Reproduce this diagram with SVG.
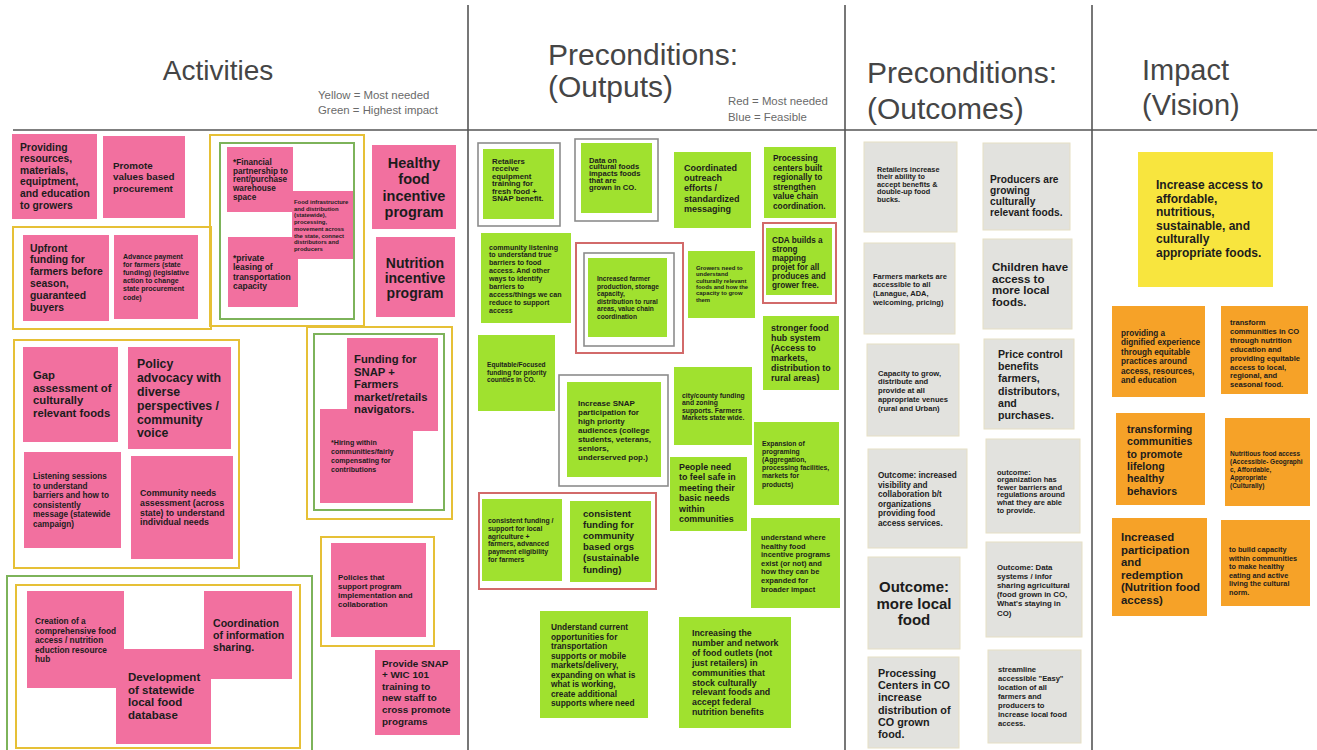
<svg xmlns="http://www.w3.org/2000/svg" width="1317" height="750" viewBox="0 0 1317 750">
<style>
  .pk{fill:#f2709f}
  .gr{fill:#a0e12f}
  .gy{fill:#e2e2de;stroke:#e6dfc4;stroke-width:1}
  .yl{fill:#f8e53e}
  .or{fill:#f6a228}
  .t{font-family:"Liberation Sans",Arial,sans-serif;font-weight:bold;fill:#1c1c1c}
  .hd{font-family:"Liberation Sans",Arial,sans-serif;fill:#454545}
  .lg{font-family:"Liberation Sans",Arial,sans-serif;fill:#6a6a6a;font-size:11.4px}
  .fy{fill:none;stroke:#e6c036;stroke-width:2}
  .fg{fill:none;stroke:#7db35a;stroke-width:2}
  .fgy{fill:none;stroke:#8c8c8c;stroke-width:1.6}
  .fr{fill:none;stroke:#d26a6a;stroke-width:2}
  .dv{stroke:#555;stroke-width:1.6;fill:none}
</style>
<rect width="1317" height="750" fill="#ffffff"/>

<!-- column dividers -->
<g id="grid">
  <line class="dv" x1="13" y1="130" x2="1317" y2="130"/>
  <line class="dv" x1="468" y1="5" x2="468" y2="750"/>
  <line class="dv" x1="845" y1="5" x2="845" y2="750"/>
  <line class="dv" x1="1092" y1="5" x2="1092" y2="750"/>
</g>

<!-- column headings and legends -->
<g id="headings">
  <text class="hd" x="218" y="80" font-size="28" text-anchor="middle">Activities</text>
  <text class="lg" x="318" y="99">Yellow = Most needed</text>
  <text class="lg" x="318" y="114">Green = Highest impact</text>
  <text class="hd" x="548" y="65" font-size="30">Preconditions:</text>
  <text class="hd" x="548" y="97" font-size="30">(Outputs)</text>
  <text class="lg" x="728" y="105">Red = Most needed</text>
  <text class="lg" x="728" y="121">Blue = Feasible</text>
  <text class="hd" x="867" y="83" font-size="30">Preconditions:</text>
  <text class="hd" x="867" y="119" font-size="30">(Outcomes)</text>
  <text class="hd" x="1142" y="80" font-size="29">Impact</text>
  <text class="hd" x="1142" y="115" font-size="29">(Vision)</text>
</g>

<!-- ===== Activities ===== -->
<g id="a-providing">
  <rect class="pk" x="12" y="134" width="85" height="85"/>
  <text class="t" x="20" y="150.6" font-size="10.3"><tspan x="20">Providing</tspan><tspan x="20" dy="11.6">resources,</tspan><tspan x="20" dy="11.6">materials,</tspan><tspan x="20" dy="11.6">equiptment,</tspan><tspan x="20" dy="11.6">and education</tspan><tspan x="20" dy="11.6">to growers</tspan></text>
</g>
<g id="a-promote">
  <rect class="pk" x="103" y="136" width="82" height="82"/>
  <text class="t" x="113" y="168.6" font-size="9.8"><tspan x="113">Promote</tspan><tspan x="113" dy="11.5">values based</tspan><tspan x="113" dy="11.5">procurement</tspan></text>
</g>
<g id="a-financial">
  <rect class="pk" x="227" y="147" width="66" height="65"/>
  <text class="t" x="233" y="164.7" font-size="8.2"><tspan x="233">*Financial</tspan><tspan x="233" dy="8.8">partnership to</tspan><tspan x="233" dy="8.8">rent/purchase</tspan><tspan x="233" dy="8.8">warehouse</tspan><tspan x="233" dy="8.8">space</tspan></text>
</g>
<g id="a-private">
  <rect class="pk" x="228" y="237" width="70" height="70"/>
  <text class="t" x="233" y="261" font-size="8.5"><tspan x="233">*private</tspan><tspan x="233" dy="9.3">leasing of</tspan><tspan x="233" dy="9.3">transportation</tspan><tspan x="233" dy="9.3">capacity</tspan></text>
</g>
<g id="a-infrastructure">
  <rect class="pk" x="292" y="191" width="61" height="68"/>
  <text class="t" x="294" y="204" font-size="5.9"><tspan x="294">Food infrastructure</tspan><tspan x="294" dy="6.7">and distribution</tspan><tspan x="294" dy="6.7">(statewide),</tspan><tspan x="294" dy="6.7">processing,</tspan><tspan x="294" dy="6.7">movement across</tspan><tspan x="294" dy="6.7">the state, connect</tspan><tspan x="294" dy="6.7">distributors and</tspan><tspan x="294" dy="6.7">producers</tspan></text>
</g>
<g id="a-healthy">
  <rect class="pk" x="372" y="145" width="84" height="84"/>
  <text class="t" x="414" y="168" font-size="14.5" text-anchor="middle"><tspan x="414">Healthy</tspan><tspan x="414" dy="16.3">food</tspan><tspan x="414" dy="16.3">incentive</tspan><tspan x="414" dy="16.3">program</tspan></text>
</g>
<g id="a-nutrition">
  <rect class="pk" x="376" y="237" width="79" height="80"/>
  <text class="t" x="415" y="268" font-size="14" text-anchor="middle"><tspan x="415">Nutrition</tspan><tspan x="415" dy="15">incentive</tspan><tspan x="415" dy="15">program</tspan></text>
</g>
<g id="a-upfront">
  <rect class="pk" x="23" y="235" width="86" height="86"/>
  <text class="t" x="30" y="251.6" font-size="10.4"><tspan x="30">Upfront</tspan><tspan x="30" dy="11.8">funding for</tspan><tspan x="30" dy="11.8">farmers before</tspan><tspan x="30" dy="11.8">season,</tspan><tspan x="30" dy="11.8">guaranteed</tspan><tspan x="30" dy="11.8">buyers</tspan></text>
</g>
<g id="a-advance">
  <rect class="pk" x="114" y="235" width="84" height="84"/>
  <text class="t" x="123" y="258.5" font-size="7"><tspan x="123">Advance payment</tspan><tspan x="123" dy="8.2">for farmers (state</tspan><tspan x="123" dy="8.2">funding) (legislative</tspan><tspan x="123" dy="8.2">action to change</tspan><tspan x="123" dy="8.2">state procurement</tspan><tspan x="123" dy="8.2">code)</tspan></text>
</g>
<g id="a-gap">
  <rect class="pk" x="23" y="347" width="95" height="95"/>
  <text class="t" x="33" y="379" font-size="11.3"><tspan x="33">Gap</tspan><tspan x="33" dy="12.7">assessment of</tspan><tspan x="33" dy="12.7">culturally</tspan><tspan x="33" dy="12.7">relevant foods</tspan></text>
</g>
<g id="a-policy">
  <rect class="pk" x="128" y="347" width="103" height="102"/>
  <text class="t" x="137" y="368.3" font-size="12.3"><tspan x="137">Policy</tspan><tspan x="137" dy="13.8">advocacy with</tspan><tspan x="137" dy="13.8">diverse</tspan><tspan x="137" dy="13.8">perspectives /</tspan><tspan x="137" dy="13.8">community</tspan><tspan x="137" dy="13.8">voice</tspan></text>
</g>
<g id="a-hiring">
  <rect class="pk" x="320" y="409" width="93" height="94"/>
  <text class="t" x="331" y="444.8" font-size="7.1"><tspan x="331">*Hiring within</tspan><tspan x="331" dy="9">communities/fairly</tspan><tspan x="331" dy="9">compensating for</tspan><tspan x="331" dy="9">contributions</tspan></text>
</g>
<g id="a-snap-navigators">
  <rect class="pk" x="347" y="338" width="91" height="93"/>
  <text class="t" x="354" y="363" font-size="11.3"><tspan x="354">Funding for</tspan><tspan x="354" dy="12.5">SNAP +</tspan><tspan x="354" dy="12.5">Farmers</tspan><tspan x="354" dy="12.5">market/retails</tspan><tspan x="354" dy="12.5">navigators.</tspan></text>
</g>
<g id="a-listening">
  <rect class="pk" x="24" y="452" width="97" height="96"/>
  <text class="t" x="33" y="479" font-size="8.2"><tspan x="33">Listening sessions</tspan><tspan x="33" dy="9.5">to understand</tspan><tspan x="33" dy="9.5">barriers and how to</tspan><tspan x="33" dy="9.5">consistently</tspan><tspan x="33" dy="9.5">message (statewide</tspan><tspan x="33" dy="9.5">campaign)</tspan></text>
</g>
<g id="a-community-needs">
  <rect class="pk" x="131" y="456" width="102" height="103"/>
  <text class="t" x="140" y="496" font-size="8.8"><tspan x="140">Community needs</tspan><tspan x="140" dy="9.8">assessment (across</tspan><tspan x="140" dy="9.8">state) to understand</tspan><tspan x="140" dy="9.8">individual needs</tspan></text>
</g>
<g id="a-policies">
  <rect class="pk" x="331" y="543" width="95" height="94"/>
  <text class="t" x="338" y="580" font-size="7.9"><tspan x="338">Policies that</tspan><tspan x="338" dy="9">support program</tspan><tspan x="338" dy="9">implementation and</tspan><tspan x="338" dy="9">collaboration</tspan></text>
</g>
<g id="a-creation">
  <rect class="pk" x="27" y="591" width="97" height="97"/>
  <text class="t" x="35" y="624" font-size="8.3"><tspan x="35">Creation of a</tspan><tspan x="35" dy="9.5">comprehensive food</tspan><tspan x="35" dy="9.5">access / nutrition</tspan><tspan x="35" dy="9.5">eduction resource</tspan><tspan x="35" dy="9.5">hub</tspan></text>
</g>
<g id="a-coordination">
  <rect class="pk" x="204" y="591" width="88" height="88"/>
  <text class="t" x="213" y="627" font-size="10.6"><tspan x="213">Coordination</tspan><tspan x="213" dy="12">of information</tspan><tspan x="213" dy="12">sharing.</tspan></text>
</g>
<g id="a-database">
  <rect class="pk" x="116" y="649" width="95" height="95"/>
  <text class="t" x="128" y="681" font-size="11.5"><tspan x="128">Development</tspan><tspan x="128" dy="12.7">of statewide</tspan><tspan x="128" dy="12.7">local food</tspan><tspan x="128" dy="12.7">database</tspan></text>
</g>
<g id="a-snap-wic">
  <rect class="pk" x="375" y="650" width="85" height="85"/>
  <text class="t" x="382" y="666.5" font-size="9.9"><tspan x="382">Provide SNAP</tspan><tspan x="382" dy="11.6">+ WIC 101</tspan><tspan x="382" dy="11.6">training to</tspan><tspan x="382" dy="11.6">new staff to</tspan><tspan x="382" dy="11.6">cross promote</tspan><tspan x="382" dy="11.6">programs</tspan></text>
</g>

<!-- ===== Outputs ===== -->
<g id="o-retailers">
  <rect class="gr" x="483" y="149" width="71" height="70"/>
  <text class="t" x="492" y="164" font-size="7.8"><tspan x="492">Retailers</tspan><tspan x="492" dy="7.4">receive</tspan><tspan x="492" dy="7.4">equipment</tspan><tspan x="492" dy="7.4">training for</tspan><tspan x="492" dy="7.4">fresh food +</tspan><tspan x="492" dy="7.4">SNAP benefit.</tspan></text>
</g>
<g id="o-data">
  <rect class="gr" x="581" y="143" width="71" height="70"/>
  <text class="t" x="589" y="162.5" font-size="7.6"><tspan x="589">Data on</tspan><tspan x="589" dy="6.8">cultural foods</tspan><tspan x="589" dy="6.8">impacts foods</tspan><tspan x="589" dy="6.8">that are</tspan><tspan x="589" dy="6.8">grown in CO.</tspan></text>
</g>
<g id="o-outreach">
  <rect class="gr" x="674" y="152" width="77" height="76"/>
  <text class="t" x="684" y="171" font-size="9"><tspan x="684">Coordinated</tspan><tspan x="684" dy="10.2">outreach</tspan><tspan x="684" dy="10.2">efforts /</tspan><tspan x="684" dy="10.2">standardized</tspan><tspan x="684" dy="10.2">messaging</tspan></text>
</g>
<g id="o-processing">
  <rect class="gr" x="764" y="147" width="72" height="71"/>
  <text class="t" x="773" y="161" font-size="8.3"><tspan x="773">Processing</tspan><tspan x="773" dy="9.6">centers built</tspan><tspan x="773" dy="9.6">regionally to</tspan><tspan x="773" dy="9.6">strengthen</tspan><tspan x="773" dy="9.6">value chain</tspan><tspan x="773" dy="9.6">coordination.</tspan></text>
</g>
<g id="o-cda">
  <rect class="gr" x="766" y="228" width="66" height="67"/>
  <text class="t" x="772" y="243" font-size="8.2"><tspan x="772">CDA builds a</tspan><tspan x="772" dy="9">strong</tspan><tspan x="772" dy="9">mapping</tspan><tspan x="772" dy="9">projet for all</tspan><tspan x="772" dy="9">produces and</tspan><tspan x="772" dy="9">grower free.</tspan></text>
</g>
<g id="o-listening">
  <rect class="gr" x="481" y="233" width="90" height="90"/>
  <text class="t" x="489" y="249.5" font-size="7.1"><tspan x="489">community listening</tspan><tspan x="489" dy="7.9">to understand true</tspan><tspan x="489" dy="7.9">barriers to food</tspan><tspan x="489" dy="7.9">access. And other</tspan><tspan x="489" dy="7.9">ways to identify</tspan><tspan x="489" dy="7.9">barriers to</tspan><tspan x="489" dy="7.9">access/things we can</tspan><tspan x="489" dy="7.9">reduce to support</tspan><tspan x="489" dy="7.9">access</tspan></text>
</g>
<g id="o-farmer-production">
  <rect class="gr" x="588" y="258" width="79" height="79"/>
  <text class="t" x="597" y="281" font-size="6.6"><tspan x="597">Increased farmer</tspan><tspan x="597" dy="7.5">production, storage</tspan><tspan x="597" dy="7.5">capacity,</tspan><tspan x="597" dy="7.5">distribution to rural</tspan><tspan x="597" dy="7.5">areas, value chain</tspan><tspan x="597" dy="7.5">coordination</tspan></text>
</g>
<g id="o-growers">
  <rect class="gr" x="688" y="251" width="67" height="67"/>
  <text class="t" x="696" y="270" font-size="5.9"><tspan x="696">Growers need to</tspan><tspan x="696" dy="6.3">understand</tspan><tspan x="696" dy="6.3">culturally relevant</tspan><tspan x="696" dy="6.3">foods and how the</tspan><tspan x="696" dy="6.3">capacity to grow</tspan><tspan x="696" dy="6.3">them</tspan></text>
</g>
<g id="o-equitable">
  <rect class="gr" x="478" y="335" width="77" height="76"/>
  <text class="t" x="487" y="367" font-size="6.6"><tspan x="487">Equitable/Focused</tspan><tspan x="487" dy="7.5">funding for priority</tspan><tspan x="487" dy="7.5">counties in CO.</tspan></text>
</g>
<g id="o-food-hub">
  <rect class="gr" x="763" y="316" width="76" height="74"/>
  <text class="t" x="771" y="331" font-size="8.9"><tspan x="771">stronger food</tspan><tspan x="771" dy="10">hub system</tspan><tspan x="771" dy="10">(Access to</tspan><tspan x="771" dy="10">markets,</tspan><tspan x="771" dy="10">distribution to</tspan><tspan x="771" dy="10">rural areas)</tspan></text>
</g>
<g id="o-snap-participation">
  <rect class="gr" x="567" y="382" width="94" height="95"/>
  <text class="t" x="578" y="406" font-size="8"><tspan x="578">Increase SNAP</tspan><tspan x="578" dy="9">participation for</tspan><tspan x="578" dy="9">high priority</tspan><tspan x="578" dy="9">audiences (college</tspan><tspan x="578" dy="9">students, veterans,</tspan><tspan x="578" dy="9">seniors,</tspan><tspan x="578" dy="9">underserved pop.)</tspan></text>
</g>
<g id="o-city-county">
  <rect class="gr" x="674" y="367" width="78" height="78"/>
  <text class="t" x="682" y="397.5" font-size="6.8"><tspan x="682">city/county funding</tspan><tspan x="682" dy="7.6">and zoning</tspan><tspan x="682" dy="7.6">supports. Farmers</tspan><tspan x="682" dy="7.6">Markets state wide.</tspan></text>
</g>
<g id="o-expansion">
  <rect class="gr" x="754" y="422" width="85" height="83"/>
  <text class="t" x="762" y="445.5" font-size="6.8"><tspan x="762">Expansion of</tspan><tspan x="762" dy="8.2">programing</tspan><tspan x="762" dy="8.2">(Aggregation,</tspan><tspan x="762" dy="8.2">processing facilities,</tspan><tspan x="762" dy="8.2">markets for</tspan><tspan x="762" dy="8.2">products)</tspan></text>
</g>
<g id="o-safe">
  <rect class="gr" x="670" y="457" width="77" height="74"/>
  <text class="t" x="679" y="470" font-size="8.9"><tspan x="679">People need</tspan><tspan x="679" dy="10.4">to feel safe in</tspan><tspan x="679" dy="10.4">meeting their</tspan><tspan x="679" dy="10.4">basic needs</tspan><tspan x="679" dy="10.4">within</tspan><tspan x="679" dy="10.4">communities</tspan></text>
</g>
<g id="o-local-agriculture">
  <rect class="gr" x="482" y="499" width="80" height="82"/>
  <text class="t" x="488" y="523" font-size="6.9"><tspan x="488">consistent funding /</tspan><tspan x="488" dy="7.8">support for local</tspan><tspan x="488" dy="7.8">agriculture +</tspan><tspan x="488" dy="7.8">farmers, advanced</tspan><tspan x="488" dy="7.8">payment eligibility</tspan><tspan x="488" dy="7.8">for farmers</tspan></text>
</g>
<g id="o-community-orgs">
  <rect class="gr" x="570" y="501" width="81" height="81"/>
  <text class="t" x="583" y="516.5" font-size="9.6"><tspan x="583">consistent</tspan><tspan x="583" dy="11.2">funding for</tspan><tspan x="583" dy="11.2">community</tspan><tspan x="583" dy="11.2">based orgs</tspan><tspan x="583" dy="11.2">(sustainable</tspan><tspan x="583" dy="11.2">funding)</tspan></text>
</g>
<g id="o-incentive-programs">
  <rect class="gr" x="751" y="518" width="89" height="90"/>
  <text class="t" x="761" y="540" font-size="7.5"><tspan x="761">understand where</tspan><tspan x="761" dy="8.6">healthy food</tspan><tspan x="761" dy="8.6">incentive programs</tspan><tspan x="761" dy="8.6">exist (or not) and</tspan><tspan x="761" dy="8.6">how they can be</tspan><tspan x="761" dy="8.6">expanded for</tspan><tspan x="761" dy="8.6">broader impact</tspan></text>
</g>
<g id="o-transportation">
  <rect class="gr" x="540" y="611" width="108" height="107"/>
  <text class="t" x="551" y="630" font-size="8.3"><tspan x="551">Understand current</tspan><tspan x="551" dy="9.5">opportunities for</tspan><tspan x="551" dy="9.5">transportation</tspan><tspan x="551" dy="9.5">supports or mobile</tspan><tspan x="551" dy="9.5">markets/delivery,</tspan><tspan x="551" dy="9.5">expanding on what is</tspan><tspan x="551" dy="9.5">what is working,</tspan><tspan x="551" dy="9.5">create additional</tspan><tspan x="551" dy="9.5">supports where need</tspan></text>
</g>
<g id="o-food-outlets">
  <rect class="gr" x="679" y="617" width="112" height="111"/>
  <text class="t" x="692" y="636" font-size="8.8"><tspan x="692">Increasing the</tspan><tspan x="692" dy="9.9">number and network</tspan><tspan x="692" dy="9.9">of food outlets (not</tspan><tspan x="692" dy="9.9">just retailers) in</tspan><tspan x="692" dy="9.9">communities that</tspan><tspan x="692" dy="9.9">stock culturally</tspan><tspan x="692" dy="9.9">relevant foods and</tspan><tspan x="692" dy="9.9">accept federal</tspan><tspan x="692" dy="9.9">nutrition benefits</tspan></text>
</g>

<!-- ===== Outcomes ===== -->
<g id="c-retailers">
  <rect class="gy" x="864" y="142" width="93" height="90"/>
  <text class="t" x="877" y="171.5" font-size="7.3"><tspan x="877">Retailers increase</tspan><tspan x="877" dy="7.5">their ability to</tspan><tspan x="877" dy="7.5">accept benefits &amp;</tspan><tspan x="877" dy="7.5">double-up food</tspan><tspan x="877" dy="7.5">bucks.</tspan></text>
</g>
<g id="c-producers">
  <rect class="gy" x="983" y="143" width="87" height="87"/>
  <text class="t" x="990" y="182.5" font-size="10.2"><tspan x="990">Producers are</tspan><tspan x="990" dy="11.3">growing</tspan><tspan x="990" dy="11.3">culturally</tspan><tspan x="990" dy="11.3">relevant foods.</tspan></text>
</g>
<g id="c-farmers-markets">
  <rect class="gy" x="864" y="243" width="91" height="91"/>
  <text class="t" x="873" y="278.5" font-size="7.5"><tspan x="873">Farmers markets are</tspan><tspan x="873" dy="8.7">accessible to all</tspan><tspan x="873" dy="8.7">(Lanague, ADA,</tspan><tspan x="873" dy="8.7">welcoming, pricing)</tspan></text>
</g>
<g id="c-children">
  <rect class="gy" x="983" y="239" width="89" height="90"/>
  <text class="t" x="992" y="271" font-size="11.5"><tspan x="992">Children have</tspan><tspan x="992" dy="11.7">access to</tspan><tspan x="992" dy="11.7">more local</tspan><tspan x="992" dy="11.7">foods.</tspan></text>
</g>
<g id="c-capacity">
  <rect class="gy" x="867" y="344" width="92" height="92"/>
  <text class="t" x="878" y="375.5" font-size="7.6"><tspan x="878">Capacity to grow,</tspan><tspan x="878" dy="8.8">distribute and</tspan><tspan x="878" dy="8.8">provide at all</tspan><tspan x="878" dy="8.8">appropriate venues</tspan><tspan x="878" dy="8.8">(rural and Urban)</tspan></text>
</g>
<g id="c-price-control">
  <rect class="gy" x="984" y="339" width="90" height="90"/>
  <text class="t" x="998" y="358" font-size="10.6"><tspan x="998">Price control</tspan><tspan x="998" dy="12.2">benefits</tspan><tspan x="998" dy="12.2">farmers,</tspan><tspan x="998" dy="12.2">distributors,</tspan><tspan x="998" dy="12.2">and</tspan><tspan x="998" dy="12.2">purchases.</tspan></text>
</g>
<g id="c-visibility">
  <rect class="gy" x="868" y="449" width="99" height="99"/>
  <text class="t" x="878" y="478" font-size="8.2"><tspan x="878">Outcome: increased</tspan><tspan x="878" dy="9.6">visibility and</tspan><tspan x="878" dy="9.6">collaboration b/t</tspan><tspan x="878" dy="9.6">organizations</tspan><tspan x="878" dy="9.6">providing food</tspan><tspan x="878" dy="9.6">access services.</tspan></text>
</g>
<g id="c-barriers">
  <rect class="gy" x="986" y="439" width="94" height="94"/>
  <text class="t" x="997" y="474.5" font-size="7.5"><tspan x="997">outcome:</tspan><tspan x="997" dy="7.6">organization has</tspan><tspan x="997" dy="7.6">fewer barriers and</tspan><tspan x="997" dy="7.6">regulations around</tspan><tspan x="997" dy="7.6">what they are able</tspan><tspan x="997" dy="7.6">to provide.</tspan></text>
</g>
<g id="c-local-food">
  <rect class="gy" x="868" y="557" width="92" height="92"/>
  <text class="t" x="914" y="592" font-size="15" text-anchor="middle"><tspan x="914">Outcome:</tspan><tspan x="914" dy="16.5">more local</tspan><tspan x="914" dy="16.5">food</tspan></text>
</g>
<g id="c-data-systems">
  <rect class="gy" x="986" y="542" width="96" height="95"/>
  <text class="t" x="997" y="569.5" font-size="7.8"><tspan x="997">Outcome: Data</tspan><tspan x="997" dy="9.2">systems / infor</tspan><tspan x="997" dy="9.2">sharing agricultural</tspan><tspan x="997" dy="9.2">(food grown in CO,</tspan><tspan x="997" dy="9.2">What's staying in</tspan><tspan x="997" dy="9.2">CO)</tspan></text>
</g>
<g id="c-processing-centers">
  <rect class="gy" x="868" y="657" width="91" height="91"/>
  <text class="t" x="878" y="677" font-size="10.8"><tspan x="878">Processing</tspan><tspan x="878" dy="12.2">Centers in CO</tspan><tspan x="878" dy="12.2">increase</tspan><tspan x="878" dy="12.2">distribution of</tspan><tspan x="878" dy="12.2">CO grown</tspan><tspan x="878" dy="12.2">food.</tspan></text>
</g>
<g id="c-streamline">
  <rect class="gy" x="988" y="650" width="93" height="93"/>
  <text class="t" x="998" y="671.5" font-size="7.6"><tspan x="998">streamline</tspan><tspan x="998" dy="9">accessible "Easy"</tspan><tspan x="998" dy="9">location of all</tspan><tspan x="998" dy="9">farmers and</tspan><tspan x="998" dy="9">producers to</tspan><tspan x="998" dy="9">increase local food</tspan><tspan x="998" dy="9">access.</tspan></text>
</g>

<!-- ===== Impact ===== -->
<g id="i-vision">
  <rect class="yl" x="1138" y="152" width="135" height="135"/>
  <text class="t" x="1156" y="189" font-size="12"><tspan x="1156">Increase access to</tspan><tspan x="1156" dy="13.5">affordable,</tspan><tspan x="1156" dy="13.5">nutritious,</tspan><tspan x="1156" dy="13.5">sustainable, and</tspan><tspan x="1156" dy="13.5">culturally</tspan><tspan x="1156" dy="13.5">appropriate foods.</tspan></text>
</g>
<g id="i-dignified">
  <rect class="or" x="1112" y="306" width="93" height="91"/>
  <text class="t" x="1121" y="336" font-size="8.2"><tspan x="1121">providing a</tspan><tspan x="1121" dy="9.4">dignified experience</tspan><tspan x="1121" dy="9.4">through equitable</tspan><tspan x="1121" dy="9.4">practices around</tspan><tspan x="1121" dy="9.4">access, resources,</tspan><tspan x="1121" dy="9.4">and education</tspan></text>
</g>
<g id="i-transform">
  <rect class="or" x="1221" y="306" width="87" height="88"/>
  <text class="t" x="1230" y="325" font-size="7.6"><tspan x="1230">transform</tspan><tspan x="1230" dy="8.9">communities in CO</tspan><tspan x="1230" dy="8.9">through nutrition</tspan><tspan x="1230" dy="8.9">education and</tspan><tspan x="1230" dy="8.9">providing equitable</tspan><tspan x="1230" dy="8.9">access to local,</tspan><tspan x="1230" dy="8.9">regional, and</tspan><tspan x="1230" dy="8.9">seasonal food.</tspan></text>
</g>
<g id="i-lifelong">
  <rect class="or" x="1116" y="413" width="89" height="92"/>
  <text class="t" x="1127" y="433" font-size="10.6"><tspan x="1127">transforming</tspan><tspan x="1127" dy="12.3">communities</tspan><tspan x="1127" dy="12.3">to promote</tspan><tspan x="1127" dy="12.3">lifelong</tspan><tspan x="1127" dy="12.3">healthy</tspan><tspan x="1127" dy="12.3">behaviors</tspan></text>
</g>
<g id="i-nutritious">
  <rect class="or" x="1225" y="418" width="85" height="88"/>
  <text class="t" x="1230" y="456" font-size="6.5"><tspan x="1230">Nutritious food access</tspan><tspan x="1230" dy="8">(Accessible- Geographi</tspan><tspan x="1230" dy="8">c, Affordable,</tspan><tspan x="1230" dy="8">Appropriate</tspan><tspan x="1230" dy="8">(Culturally)</tspan></text>
</g>
<g id="i-participation">
  <rect class="or" x="1112" y="518" width="95" height="98"/>
  <text class="t" x="1121" y="541" font-size="11.4"><tspan x="1121">Increased</tspan><tspan x="1121" dy="12.6">participation</tspan><tspan x="1121" dy="12.6">and</tspan><tspan x="1121" dy="12.6">redemption</tspan><tspan x="1121" dy="12.6">(Nutrition food</tspan><tspan x="1121" dy="12.6">access)</tspan></text>
</g>
<g id="i-capacity">
  <rect class="or" x="1221" y="520" width="89" height="86"/>
  <text class="t" x="1229" y="552" font-size="7.3"><tspan x="1229">to build capacity</tspan><tspan x="1229" dy="8.5">within communities</tspan><tspan x="1229" dy="8.5">to make healthy</tspan><tspan x="1229" dy="8.5">eating and active</tspan><tspan x="1229" dy="8.5">living the cultural</tspan><tspan x="1229" dy="8.5">norm.</tspan></text>
</g>

<!-- priority frames drawn around groups of notes -->
<g id="frames">
  <rect class="fy" x="210" y="135" width="154" height="191"/>
  <rect class="fg" x="220" y="143" width="134" height="176"/>
  <rect class="fy" x="13" y="227" width="198" height="102"/>
  <rect class="fy" x="14" y="340" width="225" height="228"/>
  <rect class="fy" x="307" y="327" width="145" height="192"/>
  <rect class="fg" x="314" y="334" width="130" height="176"/>
  <rect class="fy" x="321" y="537" width="113" height="109"/>
  <rect class="fg" x="7" y="576" width="305" height="180"/>
  <rect class="fy" x="16" y="585" width="284" height="163"/>
  <rect class="fgy" x="478" y="143" width="82" height="83"/>
  <rect class="fgy" x="575" y="139" width="83" height="82"/>
  <rect class="fr" x="763" y="223" width="73" height="80"/>
  <rect class="fr" x="576" y="243" width="107" height="110"/>
  <rect class="fgy" x="584" y="253" width="90" height="93"/>
  <rect class="fgy" x="559" y="375" width="109" height="111"/>
  <rect class="fr" x="479" y="493" width="177" height="96"/>
</g>
</svg>
